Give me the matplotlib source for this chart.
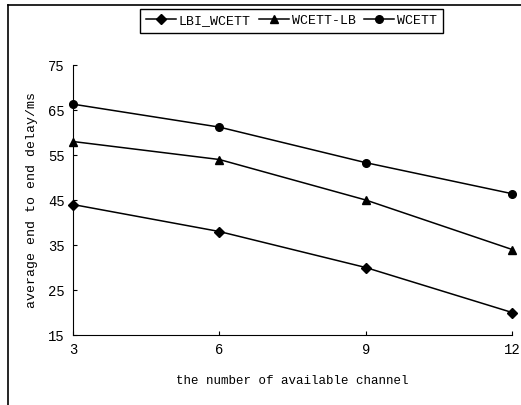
import matplotlib.pyplot as plt
from matplotlib.lines import Line2D

channels = [3, 6, 9, 12]
lbi_wcett = [44, 38, 30, 20]
wcett_lb = [58, 54, 45, 34]
wcett = [66.3, 61.2, 53.3, 46.4]

plt.rcParams['font.family'] = 'Liberation Mono'

fig = plt.figure(figsize=(5.21, 4.05), dpi=100)
ax = fig.add_axes([0.140, 0.1728, 0.843, 0.6667])

ax.plot(channels, lbi_wcett, 'k-', marker='D', ms=4.8, lw=1.1, label='LBI_WCETT', clip_on=False)
ax.plot(channels, wcett_lb, 'k-', marker='^', ms=6, lw=1.1, label='WCETT-LB', clip_on=False)
ax.plot(channels, wcett, 'k-', marker='o', ms=5.5, lw=1.1, label='WCETT', clip_on=False)

ax.set_xlim(3, 12)
ax.set_ylim(15, 75)
ax.set_xticks(channels)
ax.set_yticks([15, 25, 35, 45, 55, 65, 75])
ax.spines['top'].set_visible(False)
ax.spines['right'].set_visible(False)
ax.tick_params(direction='in', length=3, labelsize=10, pad=6)
ax.set_xlabel('the number of available channel', fontsize=9, labelpad=13)
ax.set_ylabel('average end to end delay/ms', fontsize=9.5, labelpad=7)

fig.legend(loc='upper center', bbox_to_anchor=(0.559, 0.978), ncol=3, fontsize=9.5,
           frameon=True, fancybox=False, edgecolor='black', framealpha=1,
           handlelength=2.3, handletextpad=0.2, columnspacing=0.6,
           borderpad=0.45, borderaxespad=0)

# outer frame (left and top edges only)
fig.add_artist(Line2D([8 / 521, 8 / 521], [0, 1 - 5 / 405], transform=fig.transFigure, color='black', lw=1.2))
fig.add_artist(Line2D([8 / 521, 1], [1 - 5 / 405, 1 - 5 / 405], transform=fig.transFigure, color='black', lw=1.2))

fig.savefig('out.png', dpi=100)
